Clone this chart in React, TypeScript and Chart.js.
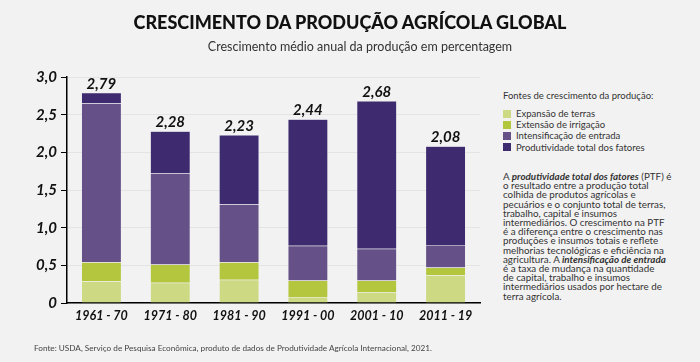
import React, { useEffect, useRef } from "react";
import { Chart, registerables } from "chart.js";

Chart.register(...registerables);

const categories = ["1961 - 70", "1971 - 80", "1981 - 90", "1991 - 00", "2001 - 10", "2011 - 19"];
const expansaoTerras = [0.29, 0.27, 0.31, 0.08, 0.14, 0.37];
const extensaoIrrigacao = [0.25, 0.24, 0.23, 0.22, 0.16, 0.1];
const intensificacaoEntrada = [2.11, 1.21, 0.77, 0.46, 0.42, 0.3];
const produtividadeTotal = [0.14, 0.56, 0.92, 1.68, 1.96, 1.31];
const totals = [2.79, 2.28, 2.23, 2.44, 2.68, 2.08];
const seriesNames = [
  "Expansão de terras",
  "Extensão de irrigação",
  "Intensificação de entrada",
  "Produtividade total dos fatores",
];
const seriesColors = ["#cdd983", "#b3c63d", "#655187", "#3e2a6e"];

const FONT = "Lato, 'Open Sans', sans-serif";

const totalsPlugin = {
  id: "totals",
  afterDatasetsDraw(chart: any) {
    const ctx = chart.ctx;
    const last = chart.data.datasets.length - 1;
    const meta = chart.getDatasetMeta(last);
    ctx.save();
    ctx.font = `italic bold 15px ${FONT}`;
    ctx.fillStyle = "#111";
    ctx.textAlign = "center";
    ctx.textBaseline = "alphabetic";
    meta.data.forEach((el: any, i: number) => {
      const y = chart.scales.y.getPixelForValue(totals[i]);
      ctx.fillText(totals[i].toFixed(2).replace(".", ","), el.x, y - 4);
    });
    ctx.restore();
  },
};

function ChartCanvas() {
  const ref = useRef<HTMLCanvasElement | null>(null);
  useEffect(() => {
    if (!ref.current) return;
    const data = [expansaoTerras, extensaoIrrigacao, intensificacaoEntrada, produtividadeTotal];
    const chart = new Chart(ref.current, {
      type: "bar",
      data: {
        labels: categories,
        datasets: data.map((d, i) => ({
          label: seriesNames[i],
          data: d,
          backgroundColor: seriesColors[i],
          borderColor: "rgba(255,255,255,0.25)",
          borderWidth: 0.5,
          barPercentage: 0.58,
          categoryPercentage: 1,
        })),
      },
      options: {
        responsive: false,
        devicePixelRatio: 1,
        animation: false,
        layout: { padding: { top: 77, right: 10, bottom: 0, left: 0 } },
        plugins: { legend: { display: false }, tooltip: { enabled: false }, title: { display: false } },
        scales: {
          x: {
            stacked: true,
            grid: { drawOnChartArea: false, drawTicks: false },
            border: { display: true, color: "#000", width: 1.5 },
            ticks: {
              color: "#111",
              padding: 5,
              maxRotation: 0,
              font: { family: FONT, size: 12.5, weight: "bold", style: "italic" },
            },
            afterFit: (s: any) => {
              s.height = 59;
            },
          },
          y: {
            stacked: true,
            min: 0,
            max: 3,
            grid: { color: "#e4e4e4", tickColor: "#000", tickLength: 6, lineWidth: 1 },
            border: { display: true, color: "#000", width: 1.5 },
            ticks: {
              stepSize: 0.5,
              color: "#111",
              padding: 4,
              font: { family: FONT, size: 15, weight: "bold", style: "italic" },
              callback: (v: any) => (v === 0 ? "0" : Number(v).toFixed(1).replace(".", ",")),
            },
            afterFit: (s: any) => {
              s.width = 67;
            },
          },
        },
      },
      plugins: [totalsPlugin],
    });
    return () => chart.destroy();
  }, []);
  return <canvas ref={ref} width={490} height={362} style={{ position: "absolute", left: 0, top: 0 }} />;
}

export default function App() {
  const txt: React.CSSProperties = { position: "absolute", fontFamily: FONT, color: "#333", whiteSpace: "nowrap" };
  return (
    <div style={{ position: "absolute", left: 0, top: 0, width: 700, height: 362, background: "#f2f2f2", overflow: "hidden" }}>
      <ChartCanvas />
      <div style={{ ...txt, left: 0, width: 700, top: 11, textAlign: "center", fontSize: 18, fontWeight: 900, color: "#111" }}>
        CRESCIMENTO DA PRODUÇÃO AGRÍCOLA GLOBAL
      </div>
      <div style={{ ...txt, left: 10, width: 700, top: 39, textAlign: "center", fontSize: 12.5, color: "#333" }}>
        Crescimento médio anual da produção em percentagem
      </div>
      <div style={{ ...txt, left: 503, top: 90, fontSize: 9.5 }}>Fontes de crescimento da produção:</div>
      {seriesNames.map((n, i) => (
        <div key={n} style={{ ...txt, left: 503, top: 108 + i * 11.2, fontSize: 9.5, display: "flex", alignItems: "center" }}>
          <span style={{ display: "inline-block", width: 8, height: 8, background: seriesColors[i], marginRight: 5 }} />
          {n}
        </div>
      ))}
      <div style={{ ...txt, left: 503, top: 172, fontSize: 9.8, lineHeight: "9.2px" }}>
        A <b><i>produtividade total dos fatores</i></b> (PTF) é<br />
        o resultado entre a produção total<br />
        colhida de produtos agrícolas e<br />
        pecuários e o conjunto total de terras,<br />
        trabalho, capital e insumos<br />
        intermediários. O crescimento na PTF<br />
        é a diferença entre o crescimento nas<br />
        produções e insumos totais e reflete<br />
        melhorias tecnológicas e eficiência na<br />
        agricultura. A <b><i>intensificação de entrada</i></b><br />
        é a taxa de mudança na quantidade<br />
        de capital, trabalho e insumos<br />
        intermediários usados por hectare de<br />
        terra agrícola.
      </div>
      <div style={{ ...txt, left: 34, top: 343, fontSize: 8.2, color: "#444" }}>
        Fonte: USDA, Serviço de Pesquisa Econômica, produto de dados de Produtividade Agrícola Internacional, 2021.
      </div>
    </div>
  );
}
